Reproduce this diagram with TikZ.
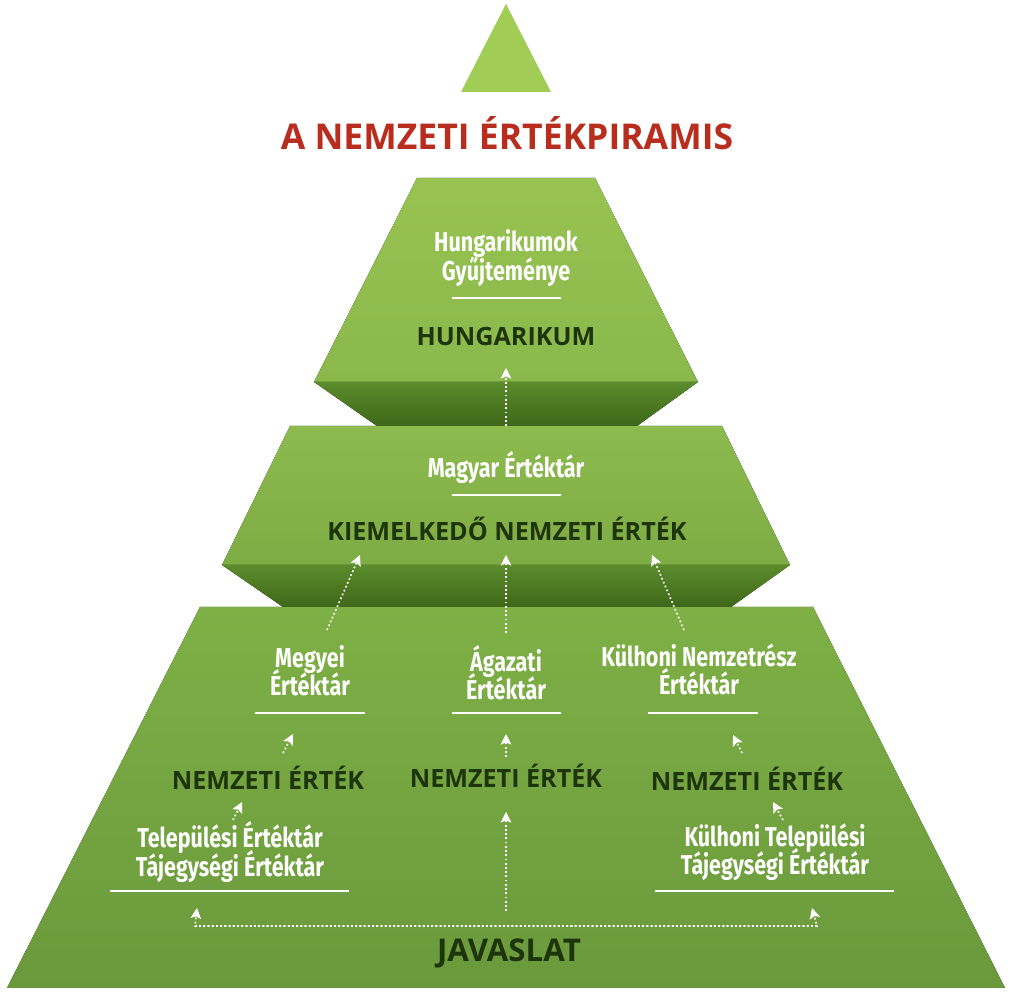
\documentclass[tikz,border=0pt]{standalone}
\usepackage{fontspec}
\setmainfont{Open Sans}
\newfontfamily\condfont[FakeStretch=0.79]{Fira Sans}
\usetikzlibrary{arrows.meta}
\setlength{\lineskiplimit}{-8pt}
\definecolor{tipgreen}{RGB}{161,204,86}
\definecolor{titlered}{RGB}{185,45,31}
\definecolor{darktext}{RGB}{30,52,11}
\definecolor{onetop}{RGB}{152,195,82}
\definecolor{onebot}{RGB}{138,184,75}
\definecolor{twotop}{RGB}{140,186,77}
\definecolor{twobot}{RGB}{126,172,69}
\definecolor{threetop}{RGB}{127,176,70}
\definecolor{threebot}{RGB}{106,153,60}
\definecolor{beveltop}{RGB}{92,140,44}
\definecolor{bevelbot}{RGB}{62,103,25}
\tikzset{
  white text/.style={text=white, align=center, inner sep=0pt,
    font=\condfont\bfseries\fontsize{7.75pt}{8pt}\selectfont},
  dark text/.style={text=darktext, inner sep=0pt,
    font=\bfseries\fontsize{7.15pt}{8pt}\selectfont},
  arr/.style={white, line width=0.45pt, dash pattern=on 0.5pt off 0.7pt,
    -{Stealth[length=3pt,width=3pt,inset=0.6pt]}},
  rulew/.style={white, line width=0.45pt}
}
\begin{document}
\begin{tikzpicture}[x=0.01cm,y=-0.01cm]
\useasboundingbox[fill=white] (0,0) rectangle (1012,992);
% top triangle and title
\fill[tipgreen] (506,4) -- (551,92) -- (461,92) -- cycle;
\node[text=titlered, inner sep=0pt, font=\bfseries\fontsize{10.1pt}{11pt}\selectfont] (title) at (507,133) {A NEMZETI ÉRTÉKPIRAMIS};
% the three steps
\fill[top color=onetop, bottom color=onebot] (417,178) -- (595,178) -- (698,382) -- (314,382) -- cycle;
\fill[top color=beveltop, bottom color=bevelbot] (314,382) -- (698,382) -- (637,426) -- (377,426) -- cycle;
\fill[top color=twotop, bottom color=twobot] (290,426) -- (722,426) -- (790,565) -- (222,565) -- cycle;
\fill[top color=beveltop, bottom color=bevelbot] (222,565) -- (790,565) -- (731,607) -- (283,607) -- cycle;
\fill[top color=threetop, bottom color=threebot] (200,607) -- (813,607) -- (1005,988) -- (7,988) -- cycle;
% texts
\node[white text] (gyujt) at (506,258) {Hungarikumok\\Gyűjteménye};
\node[dark text] (hung) at (506,337) {HUNGARIKUM};
\node[white text] (magyar) at (506,468) {Magyar Értéktár};
\node[dark text] (kiemelt) at (507,529) {KIEMELKEDŐ NEMZETI ÉRTÉK};
\node[white text] (megyei) at (310,671) {Megyei\\Értéktár};
\node[white text] (agazati) at (506,673) {Ágazati\\Értéktár};
\node[white text] (kulhoni) at (699,669) {Külhoni Nemzetrész\\Értéktár};
\node[dark text] (nemL) at (268,778) {NEMZETI ÉRTÉK};
\node[dark text] (nemM) at (506,776) {NEMZETI ÉRTÉK};
\node[dark text] (nemR) at (747,779) {NEMZETI ÉRTÉK};
\node[white text] (telep) at (230,852) {Települési Értéktár\\Tájegységi Értéktár};
\node[white text] (kultelep) at (775,852) {Külhoni Települési\\Tájegységi Értéktár};
\node[dark text, font=\bfseries\fontsize{8.9pt}{10pt}\selectfont] (javaslat) at (509,953) {JAVASLAT};
% rules under the texts
\draw[rulew] (452,298) -- (561,298);
\draw[rulew] (452,495) -- (561,495);
\draw[rulew] (255,713) -- (365,713);
\draw[rulew] (452,713) -- (561,713);
\draw[rulew] (648,713) -- (758,713);
\draw[rulew] (110,891) -- (349,891);
\draw[rulew] (655,891) -- (894,891);
% arrow ends
\coordinate (hungIn) at (506,368);
\coordinate (magyarOut) at (506,426);
\coordinate (kiemeltL) at (360,555);
\coordinate (kiemeltM) at (506,555);
\coordinate (kiemeltR) at (652,555);
\coordinate (megyeiOut) at (327,630);
\coordinate (agazatiOut) at (506,633);
\coordinate (kulhoniOut) at (684,630);
\coordinate (megyeiIn) at (293,734);
\coordinate (agazatiIn) at (506,734);
\coordinate (kulhoniIn) at (733,735);
\coordinate (nemLOut) at (283,753);
\coordinate (nemMOut) at (506,757);
\coordinate (nemROut) at (742,753);
\coordinate (nemLIn) at (242,802);
\coordinate (nemMIn) at (506,812);
\coordinate (nemRIn) at (773,802);
\coordinate (telepOut) at (233,820);
\coordinate (kultelepOut) at (783,820);
\coordinate (telepIn) at (197,908);
\coordinate (kultelepIn) at (812,908);
\coordinate (javL) at (195,926);
\coordinate (javR) at (817,926);
\coordinate (javM) at (506,911);
% arrows
\draw[arr] (magyarOut) -- (hungIn);
\draw[arr] (megyeiOut) -- (kiemeltL);
\draw[arr] (agazatiOut) -- (kiemeltM);
\draw[arr] (kulhoniOut) -- (kiemeltR);
\draw[arr] (nemLOut) -- (megyeiIn);
\draw[arr] (nemMOut) -- (agazatiIn);
\draw[arr] (nemROut) -- (kulhoniIn);
\draw[arr] (telepOut) -- (nemLIn);
\draw[arr] (javM) -- (nemMIn);
\draw[arr] (kultelepOut) -- (nemRIn);
\draw[arr] (javR) -- (javL) -- (telepIn);
\draw[arr] (javL) -- (javR) -- (kultelepIn);
\end{tikzpicture}
\end{document}
